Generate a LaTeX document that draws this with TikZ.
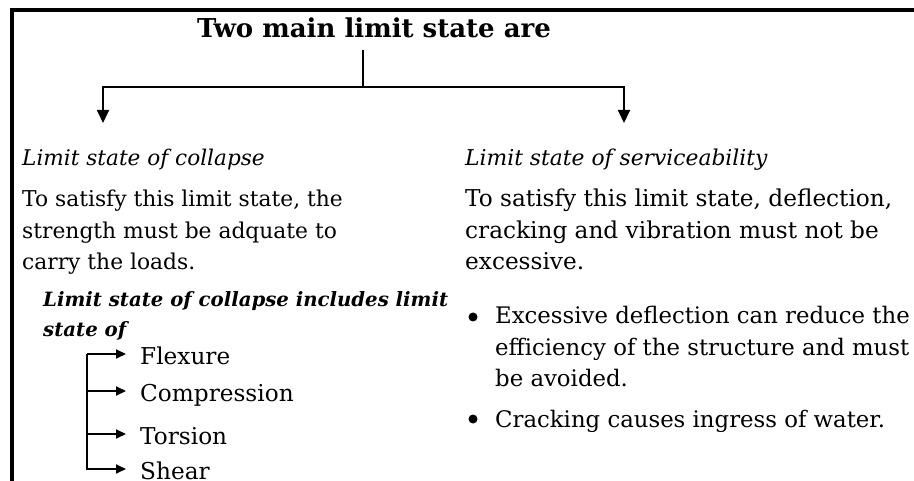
\documentclass[tikz,border=0pt]{standalone}
\usepackage{fontspec}
\setmainfont{DejaVu Serif}
\usetikzlibrary{arrows.meta,positioning}

\tikzset{
  heading/.style={font=\fontsize{21.6}{27}\selectfont\itshape, anchor=base west, inner sep=0pt},
  body/.style={font=\fontsize{21.8}{31.5}\selectfont, align=left, anchor=base west, inner sep=0pt},
  bullettext/.style={font=\fontsize{22.8}{31.5}\selectfont, align=left, anchor=base west, inner sep=0pt},
  item/.style={font=\fontsize{23.2}{26}\selectfont, anchor=west, text height=20pt, text depth=0pt, inner ysep=0pt, inner xsep=14pt},
  dot/.style={circle, fill, inner sep=0pt, minimum size=9pt},
  branch/.style={line width=1.8pt},
  tip/.style={-{Triangle[length=13pt,width=12pt]}},
  smalltip/.style={-{Triangle[length=10pt,width=9pt]}},
}

\begin{document}
\begin{tikzpicture}[x=1pt,y=-1pt]
\useasboundingbox (0,0) rectangle (914,481);
% frame, cut at the right and at the bottom
\draw [line width=3.5pt] (12,481) -- (12,10) -- (914,10);

\node [font=\fontsize{26}{30}\selectfont\bfseries, anchor=base, inner sep=0pt] (title) at (374,38) {Two main limit state are};
\coordinate (fork) at (363,87);
\coordinate (lefttip) at (103,123);
\coordinate (righttip) at (624,123);
\draw [branch] ([yshift=-11pt]title.south -| fork) -- (fork);
\draw [branch,tip] (fork) -| (lefttip);
\draw [branch,tip] (fork) -| (righttip);

% left column (multi-line nodes sit on their last line)
\node [heading] (collapse) at (22,166) {Limit state of collapse};
\node [body] (collapsetext) at (22,270) {To satisfy this limit state, the\\strength must be adquate to\\carry the loads.};
\node [font=\fontsize{19.7}{30}\selectfont\bfseries\itshape, align=left, anchor=base west, inner sep=0pt] (includes) at (43,337) {Limit state of collapse includes limit\\state of};

\coordinate (stem) at (87,354);
\node [item] (flexure) at (126,354) {Flexure};
\node [item] (compression) at (126,391) {Compression};
\node [item] (torsion) at (126,434) {Torsion};
\node [item] (shear) at (126,469) {Shear};
\draw [branch,smalltip] (stem) -- (flexure.west);
\foreach \n in {compression,torsion,shear}
  \draw [branch,smalltip] (stem) |- (\n.west);

% right column
\node [heading,font=\fontsize{21.8}{27}\selectfont\itshape] (service) at (465,166) {Limit state of serviceability};
\node [body,font=\fontsize{23.2}{31.5}\selectfont] (servicetext) at (465,270) {To satisfy this limit state, deflection,\\cracking and vibration must not be\\excessive.};
\node [dot] (dotone) at (473,317) {};
\node [bullettext] (deflection) at (495,387) {Excessive deflection can reduce the\\efficiency of the structure and must\\be avoided.};
\node [dot] (dottwo) at (473,419) {};
\node [bullettext] (cracking) at (495,428) {Cracking causes ingress of water.};
\end{tikzpicture}
\end{document}
